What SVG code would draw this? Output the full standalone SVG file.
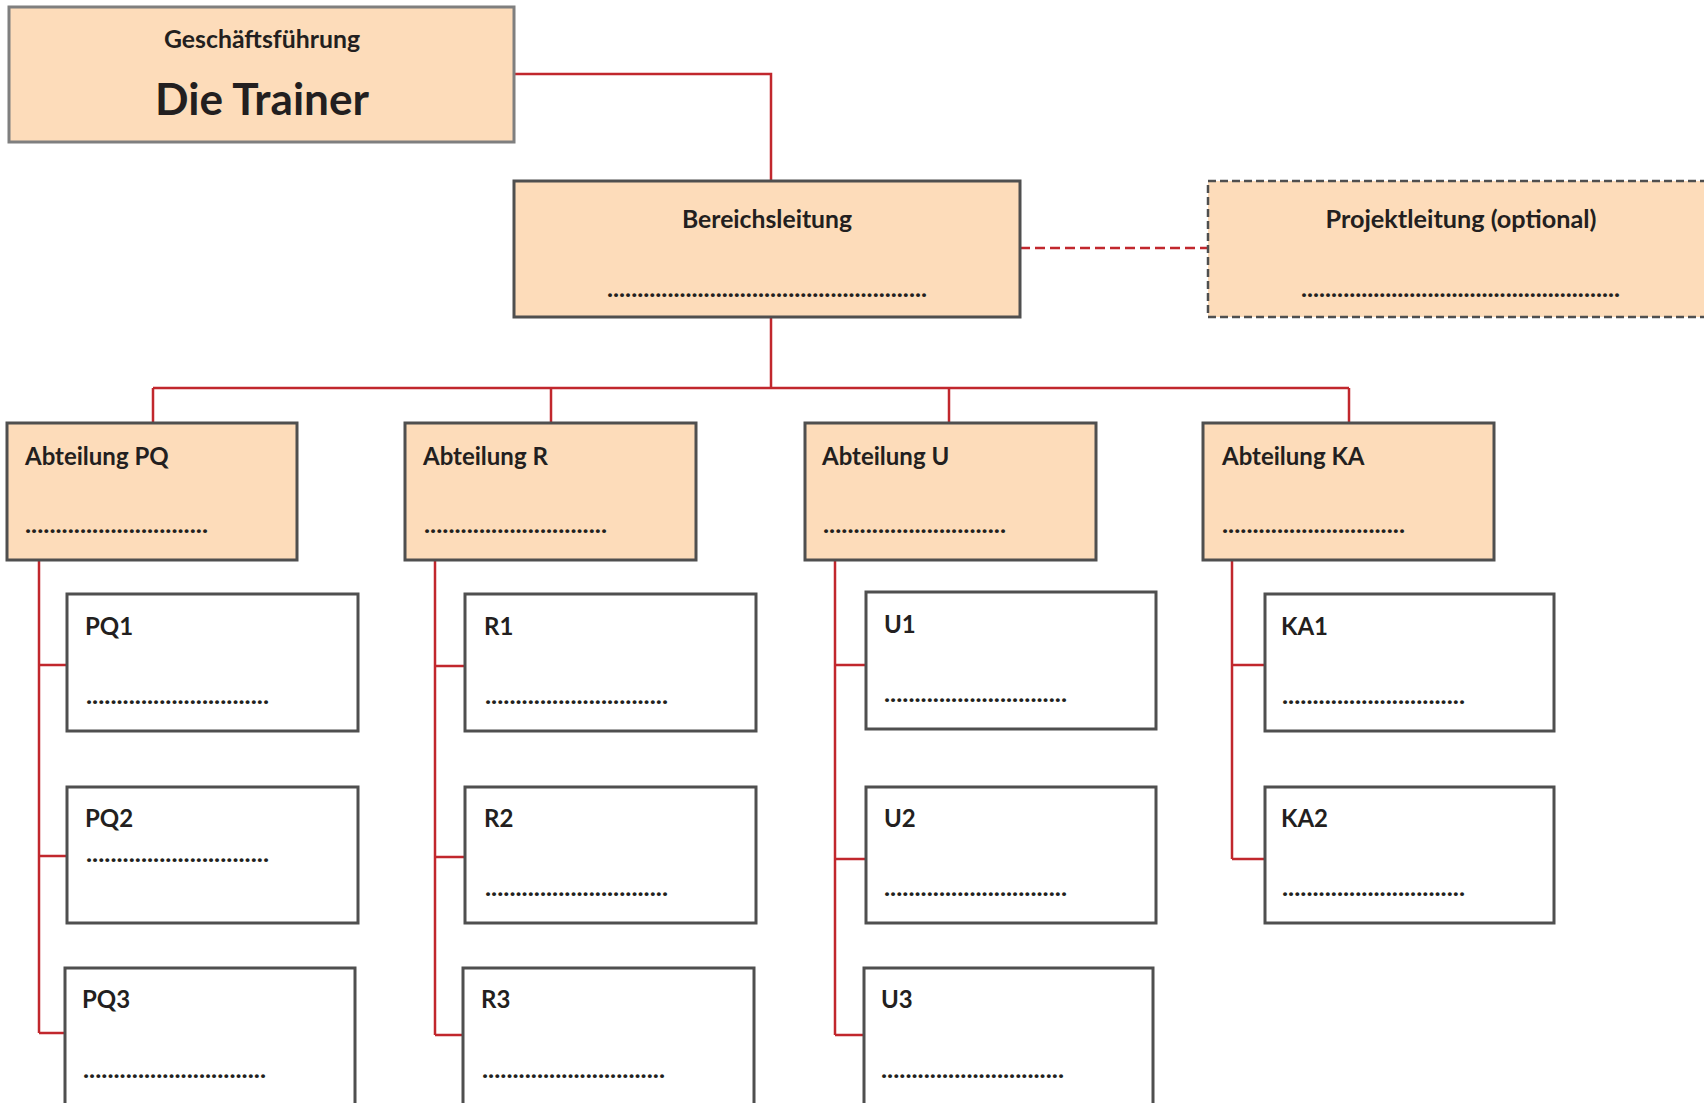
<svg xmlns="http://www.w3.org/2000/svg" width="1704" height="1103" viewBox="0 0 1704 1103">
<style>
.peach{fill:#FDDCBA;stroke:#4F4F4F;stroke-width:3}
.top{fill:#FDDCBA;stroke:#7F7F7F;stroke-width:3}
.opt{fill:#FDDCBA;stroke:#4F4F4F;stroke-width:2.5;stroke-dasharray:8 4}
.white{fill:#FFFFFF;stroke:#4F4F4F;stroke-width:3}
.con{fill:none;stroke:#C1272D;stroke-width:2.5}
.dash{fill:none;stroke:#C1272D;stroke-width:2.5;stroke-dasharray:10 5}
text{font-family:Lato,"Open Sans","Liberation Sans",sans-serif;font-weight:bold;fill:#231F20}
.t{font-size:24px}
.big{font-size:44px}
.d{font-size:24px}
.c{text-anchor:middle}
</style>
<rect width="1704" height="1103" fill="#FFFFFF"/>
<g id="connectors">
<path class="con" d="M514,74 H771 V181"/>
<path class="dash" d="M1020,248 H1208"/>
<path class="con" d="M771,317 V388 M153,388 H1349 M153,388 V423 M551,388 V423 M949,388 V423 M1349,388 V423"/>
<path class="con" d="M39,560 V1033 M39,665 H67 M39,856 H67 M39,1033 H65"/>
<path class="con" d="M435,560 V1035 M435,666 H465 M435,857 H465 M435,1035 H463"/>
<path class="con" d="M835,560 V1035 M835,665 H866 M835,859 H866 M835,1035 H864"/>
<path class="con" d="M1232,560 V859 M1232,665 H1265 M1232,859 H1265"/>
</g>
<g id="geschaeftsfuehrung">
<rect class="top" x="9" y="7" width="505" height="135"/>
<text class="t c" x="262" y="48" textLength="196" lengthAdjust="spacingAndGlyphs">Geschäftsführung</text>
<text class="big c" x="262" y="115" textLength="214" lengthAdjust="spacingAndGlyphs">Die Trainer</text>
</g>
<g id="bereichsleitung">
<rect class="peach" x="514" y="181" width="506" height="136"/>
<text class="t c" x="767" y="228" textLength="170" lengthAdjust="spacingAndGlyphs">Bereichsleitung</text>
<text class="d" x="607" y="297" textLength="320" lengthAdjust="spacingAndGlyphs">.....................................................</text>
</g>
<g id="projektleitung">
<rect class="opt" x="1208" y="181" width="506" height="136"/>
<text class="t c" x="1461" y="228" textLength="271" lengthAdjust="spacingAndGlyphs">Projektleitung (optional)</text>
<text class="d" x="1301" y="297" textLength="319" lengthAdjust="spacingAndGlyphs">.....................................................</text>
</g>
<g id="abteilung-pq">
<rect class="peach" x="7" y="423" width="290" height="137"/>
<text class="t" x="25" y="465">Abteilung PQ</text>
<text class="d" x="25" y="533" textLength="183" lengthAdjust="spacingAndGlyphs">..............................</text>
</g>
<g id="abteilung-r">
<rect class="peach" x="405" y="423" width="291" height="137"/>
<text class="t" x="423" y="465">Abteilung R</text>
<text class="d" x="424" y="533" textLength="183" lengthAdjust="spacingAndGlyphs">..............................</text>
</g>
<g id="abteilung-u">
<rect class="peach" x="805" y="423" width="291" height="137"/>
<text class="t" x="822" y="465">Abteilung U</text>
<text class="d" x="823" y="533" textLength="183" lengthAdjust="spacingAndGlyphs">..............................</text>
</g>
<g id="abteilung-ka">
<rect class="peach" x="1203" y="423" width="291" height="137"/>
<text class="t" x="1222" y="465">Abteilung KA</text>
<text class="d" x="1222" y="533" textLength="183" lengthAdjust="spacingAndGlyphs">..............................</text>
</g>
<g id="pq1">
<rect class="white" x="67" y="594" width="291" height="137"/>
<text class="t" x="85" y="635">PQ1</text>
<text class="d" x="86" y="704" textLength="183" lengthAdjust="spacingAndGlyphs">..............................</text>
</g>
<g id="pq2">
<rect class="white" x="67" y="787" width="291" height="136"/>
<text class="t" x="85" y="827">PQ2</text>
<text class="d" x="86" y="862" textLength="183" lengthAdjust="spacingAndGlyphs">..............................</text>
</g>
<g id="pq3">
<rect class="white" x="65" y="968" width="290" height="140"/>
<text class="t" x="82" y="1008">PQ3</text>
<text class="d" x="83" y="1078" textLength="183" lengthAdjust="spacingAndGlyphs">..............................</text>
</g>
<g id="r1">
<rect class="white" x="465" y="594" width="291" height="137"/>
<text class="t" x="484" y="635">R1</text>
<text class="d" x="485" y="704" textLength="183" lengthAdjust="spacingAndGlyphs">..............................</text>
</g>
<g id="r2">
<rect class="white" x="465" y="787" width="291" height="136"/>
<text class="t" x="484" y="827">R2</text>
<text class="d" x="485" y="896" textLength="183" lengthAdjust="spacingAndGlyphs">..............................</text>
</g>
<g id="r3">
<rect class="white" x="463" y="968" width="291" height="140"/>
<text class="t" x="481" y="1008">R3</text>
<text class="d" x="482" y="1078" textLength="183" lengthAdjust="spacingAndGlyphs">..............................</text>
</g>
<g id="u1">
<rect class="white" x="866" y="592" width="290" height="137"/>
<text class="t" x="884" y="633">U1</text>
<text class="d" x="884" y="702" textLength="183" lengthAdjust="spacingAndGlyphs">..............................</text>
</g>
<g id="u2">
<rect class="white" x="866" y="787" width="290" height="136"/>
<text class="t" x="884" y="827">U2</text>
<text class="d" x="884" y="896" textLength="183" lengthAdjust="spacingAndGlyphs">..............................</text>
</g>
<g id="u3">
<rect class="white" x="864" y="968" width="289" height="140"/>
<text class="t" x="881" y="1008">U3</text>
<text class="d" x="881" y="1078" textLength="183" lengthAdjust="spacingAndGlyphs">..............................</text>
</g>
<g id="ka1">
<rect class="white" x="1265" y="594" width="289" height="137"/>
<text class="t" x="1281" y="635">KA1</text>
<text class="d" x="1282" y="704" textLength="183" lengthAdjust="spacingAndGlyphs">..............................</text>
</g>
<g id="ka2">
<rect class="white" x="1265" y="787" width="289" height="136"/>
<text class="t" x="1281" y="827">KA2</text>
<text class="d" x="1282" y="896" textLength="183" lengthAdjust="spacingAndGlyphs">..............................</text>
</g>
</svg>
